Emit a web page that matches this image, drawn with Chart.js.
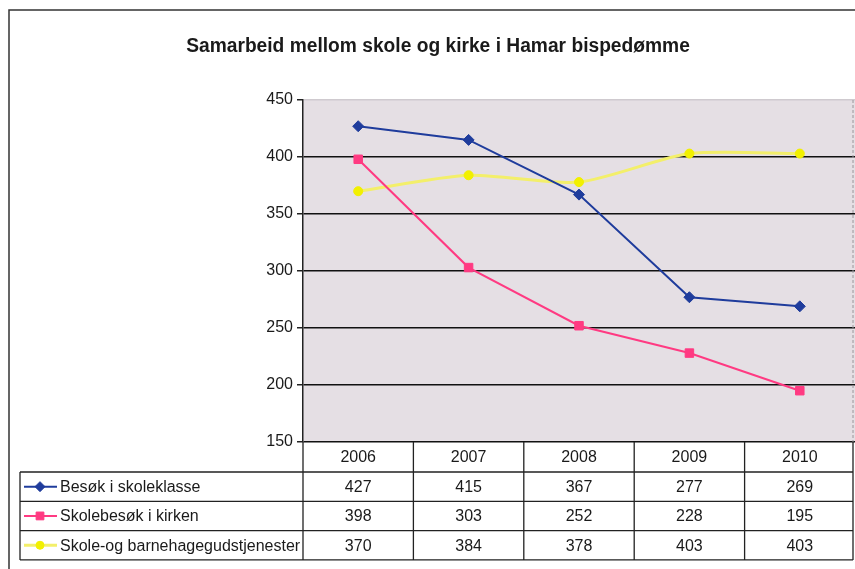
<!DOCTYPE html>
<html>
<head>
<meta charset="utf-8">
<script src="https://cdn.jsdelivr.net/npm/chart.js@4/dist/chart.umd.min.js"></script>
<style>
  html, body { margin: 0; padding: 0; background: #ffffff; overflow: hidden; }
  #wrap { position: relative; width: 855px; height: 569px; overflow: hidden; }
  canvas { display: block; }
</style>
</head>
<body>
<div id="wrap"><canvas id="c" width="862" height="569"></canvas></div>
<script>
// ---- data ----
const titleText = 'Samarbeid mellom skole og kirke i Hamar bispedømme';
const years = ['2006', '2007', '2008', '2009', '2010'];
const seriesNames = ['Besøk i skoleklasse', 'Skolebesøk i kirken', 'Skole-og barnehagegudstjenester'];
const besokSkoleklasse = [427, 415, 367, 277, 269];
const skolebesokKirken = [398, 303, 252, 228, 195];
const gudstjenester = [370, 384, 378, 403, 403];
const yMin = 150, yMax = 450, yStep = 50;

const seriesValues = [besokSkoleklasse, skolebesokKirken, gudstjenester];
const seriesColors = ['#1f3c9c', '#ff3a82', '#f3ef6a'];
const pointColors = ['#1f3c9c', '#ff3a82', '#f2f000'];
const pointStyles = ['rectRot', 'rect', 'circle'];
const pointRadii = [5.5, 6, 4.5];
const lineWidths = [2, 2, 3];
const FONT = '"Liberation Sans", Arial, sans-serif';

const plotBg = {
  id: 'plotBg',
  beforeDraw(chart) {
    const { ctx, chartArea: a } = chart;
    ctx.save();
    ctx.fillStyle = '#e5dfe4';
    ctx.fillRect(a.left, a.top, a.right - a.left, a.bottom - a.top);
    ctx.restore();
  }
};

const titleAndTable = {
  id: 'titleAndTable',
  afterDraw(chart) {
    const { ctx, chartArea: a } = chart;
    const xs = chart.scales.x;
    const n = years.length;
    const colW = (a.right - a.left) / n;
    const headTop = a.bottom, headBot = a.bottom + 30;
    const rowH = 29.3;
    const labelLeft = 20;
    const rightEdge = 853;
    ctx.save();
    // title
    ctx.fillStyle = '#1a1a1a';
    ctx.font = 'bold 20px ' + FONT;
    ctx.textAlign = 'center';
    ctx.textBaseline = 'middle';
    ctx.save();
    ctx.translate(438, 46);
    ctx.scale(0.96, 1);
    ctx.fillText(titleText, 0, 0);
    ctx.restore();

    // outer frame
    ctx.strokeStyle = '#333';
    ctx.lineWidth = 1.5;
    ctx.beginPath();
    ctx.moveTo(9, 569); ctx.lineTo(9, 10); ctx.lineTo(855, 10);
    ctx.stroke();

    // plot right edge (faint)
    ctx.strokeStyle = '#9a969a';
    ctx.lineWidth = 1;
    ctx.setLineDash([3, 2]);
    ctx.beginPath(); ctx.moveTo(rightEdge, a.top); ctx.lineTo(rightEdge, a.bottom); ctx.stroke();
    ctx.setLineDash([]);

    ctx.strokeStyle = '#222';
    ctx.lineWidth = 1.3;
    ctx.beginPath();
    for (let i = 0; i <= n; i++) {
      const x = i === n ? rightEdge : (i === 0 ? a.left : xs.getPixelForValue(i) - colW / 2);
      ctx.moveTo(x, headTop); ctx.lineTo(x, headBot + rowH * 3);
    }
    const tableBottom = headBot + rowH * 3;
    for (let r = 0; r <= 3; r++) {
      ctx.moveTo(labelLeft, headBot + rowH * r); ctx.lineTo(rightEdge, headBot + rowH * r);
    }
    ctx.moveTo(labelLeft, headBot); ctx.lineTo(labelLeft, tableBottom);
    ctx.stroke();

    // text
    ctx.fillStyle = '#1a1a1a';
    ctx.font = '16px ' + FONT;
    ctx.textAlign = 'center';
    years.forEach((y, i) => ctx.fillText(y, xs.getPixelForValue(i), (headTop + headBot) / 2 + 1));
    seriesValues.forEach((vals, r) => {
      const cy = headBot + rowH * r + rowH / 2 + 1;
      vals.forEach((v, i) => ctx.fillText(String(v), xs.getPixelForValue(i), cy));
    });
    // legend keys + labels
    ctx.textAlign = 'left';
    seriesNames.forEach((name, r) => {
      const cy = headBot + rowH * r + rowH / 2;
      ctx.strokeStyle = seriesColors[r];
      ctx.lineWidth = lineWidths[r];
      ctx.beginPath(); ctx.moveTo(24, cy); ctx.lineTo(57, cy); ctx.stroke();
      ctx.fillStyle = pointColors[r];
      ctx.strokeStyle = pointColors[r];
      ctx.lineWidth = 1;
      Chart.helpers.drawPoint(ctx, { pointStyle: pointStyles[r], radius: pointRadii[r] - 0.5, borderWidth: 1, rotation: 0 }, 40, cy);
      ctx.fillStyle = '#1a1a1a';
      ctx.fillText(name, 60, cy + 1);
    });
    ctx.restore();
  }
};

new Chart(document.getElementById('c'), {
  type: 'line',
  data: {
    labels: years,
    datasets: seriesNames.map((name, i) => ({
      label: name,
      data: seriesValues[i],
      borderColor: seriesColors[i],
      backgroundColor: pointColors[i],
      borderWidth: lineWidths[i],
      pointStyle: pointStyles[i],
      pointRadius: pointRadii[i],
      pointBorderColor: pointColors[i],
      pointBackgroundColor: pointColors[i],
      pointBorderWidth: 1,
      tension: i === 2 ? 0.25 : 0,
      fill: false
    }))
  },
  options: {
    responsive: false,
    animation: false,
    layout: { padding: { left: 0, right: 0, top: 100, bottom: 127 } },
    plugins: {
      legend: { display: false },
      tooltip: { enabled: false },
      title: { display: false }
    },
    scales: {
      x: {
        display: false,
        offset: true
      },
      y: {
        min: yMin,
        max: yMax,
        afterFit(scale) { scale.width = 303; },
        ticks: {
          stepSize: yStep,
          color: '#1a1a1a',
          padding: 4,
          font: { family: FONT, size: 16 }
        },
        grid: {
          color: ctx => (ctx.tick && ctx.tick.value === yMax) ? '#cfcacf' : '#111',
          lineWidth: 1.5,
          tickLength: 6,
          tickColor: '#222'
        },
        border: { display: true, color: '#222', width: 1.5 }
      }
    }
  },
  plugins: [plotBg, titleAndTable]
});
</script>
</body>
</html>
